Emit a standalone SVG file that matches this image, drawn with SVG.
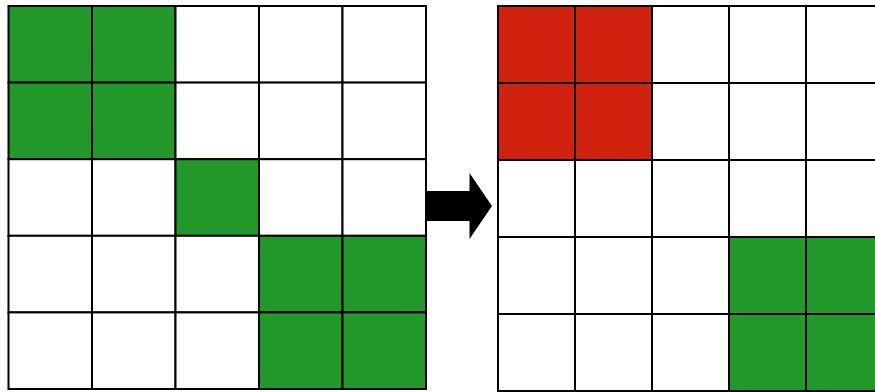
<svg xmlns="http://www.w3.org/2000/svg" width="875" height="392" viewBox="0 0 875 392">
<style>
.c{fill:#ffffff;stroke:#000000;stroke-width:2}
.g{fill:#22992a}
.r{fill:#d1220f}
</style>
<rect width="875" height="392" fill="#ffffff"/>
<g id="left-grid">
<rect class="c g" x="8.5" y="6" width="83.5" height="76.6"/>
<rect class="c g" x="92" y="6" width="83.5" height="76.6"/>
<rect class="c" x="175.5" y="6" width="83.5" height="76.6"/>
<rect class="c" x="259" y="6" width="83.5" height="76.6"/>
<rect class="c" x="342.5" y="6" width="83.5" height="76.6"/>
<rect class="c g" x="8.5" y="82.6" width="83.5" height="76.6"/>
<rect class="c g" x="92" y="82.6" width="83.5" height="76.6"/>
<rect class="c" x="175.5" y="82.6" width="83.5" height="76.6"/>
<rect class="c" x="259" y="82.6" width="83.5" height="76.6"/>
<rect class="c" x="342.5" y="82.6" width="83.5" height="76.6"/>
<rect class="c" x="8.5" y="159.2" width="83.5" height="76.6"/>
<rect class="c" x="92" y="159.2" width="83.5" height="76.6"/>
<rect class="c g" x="175.5" y="159.2" width="83.5" height="76.6"/>
<rect class="c" x="259" y="159.2" width="83.5" height="76.6"/>
<rect class="c" x="342.5" y="159.2" width="83.5" height="76.6"/>
<rect class="c" x="8.5" y="235.8" width="83.5" height="76.6"/>
<rect class="c" x="92" y="235.8" width="83.5" height="76.6"/>
<rect class="c" x="175.5" y="235.8" width="83.5" height="76.6"/>
<rect class="c g" x="259" y="235.8" width="83.5" height="76.6"/>
<rect class="c g" x="342.5" y="235.8" width="83.5" height="76.6"/>
<rect class="c" x="8.5" y="312.4" width="83.5" height="76.6"/>
<rect class="c" x="92" y="312.4" width="83.5" height="76.6"/>
<rect class="c" x="175.5" y="312.4" width="83.5" height="76.6"/>
<rect class="c g" x="259" y="312.4" width="83.5" height="76.6"/>
<rect class="c g" x="342.5" y="312.4" width="83.5" height="76.6"/>
</g>
<g id="right-grid">
<rect class="c r" x="498" y="6" width="77" height="77"/>
<rect class="c r" x="575" y="6" width="77" height="77"/>
<rect class="c" x="652" y="6" width="77" height="77"/>
<rect class="c" x="729" y="6" width="77" height="77"/>
<rect class="c" x="806" y="6" width="77" height="77"/>
<rect class="c r" x="498" y="83" width="77" height="77"/>
<rect class="c r" x="575" y="83" width="77" height="77"/>
<rect class="c" x="652" y="83" width="77" height="77"/>
<rect class="c" x="729" y="83" width="77" height="77"/>
<rect class="c" x="806" y="83" width="77" height="77"/>
<rect class="c" x="498" y="160" width="77" height="77"/>
<rect class="c" x="575" y="160" width="77" height="77"/>
<rect class="c" x="652" y="160" width="77" height="77"/>
<rect class="c" x="729" y="160" width="77" height="77"/>
<rect class="c" x="806" y="160" width="77" height="77"/>
<rect class="c" x="498" y="237" width="77" height="77"/>
<rect class="c" x="575" y="237" width="77" height="77"/>
<rect class="c" x="652" y="237" width="77" height="77"/>
<rect class="c g" x="729" y="237" width="77" height="77"/>
<rect class="c g" x="806" y="237" width="77" height="77"/>
<rect class="c" x="498" y="314" width="77" height="77"/>
<rect class="c" x="575" y="314" width="77" height="77"/>
<rect class="c" x="652" y="314" width="77" height="77"/>
<rect class="c g" x="729" y="314" width="77" height="77"/>
<rect class="c g" x="806" y="314" width="77" height="77"/>
</g>
<g id="connectors">
<polygon points="426,191 469.5,191 469.5,173 492,206 469.5,239 469.5,221 426,221" fill="#000000"/>
</g>
</svg>
